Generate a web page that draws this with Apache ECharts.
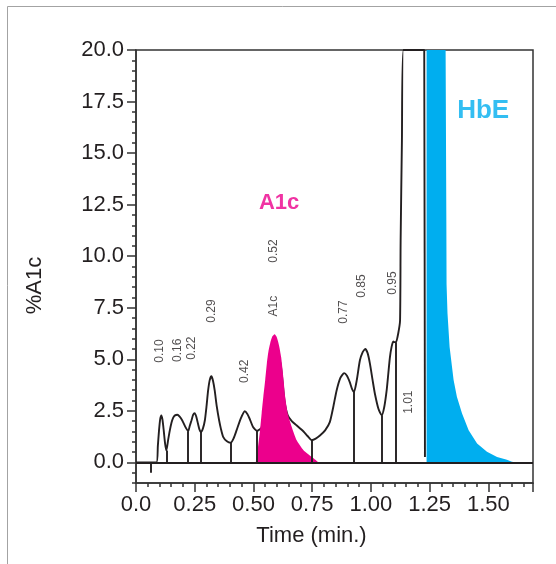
<!DOCTYPE html>
<html>
<head>
<meta charset="utf-8">
<script src="https://cdn.jsdelivr.net/npm/echarts@6/dist/echarts.min.js"></script>
<style>html,body{margin:0;padding:0;background:#fff;}#c{width:556px;height:564px;}</style>
</head>
<body>
<div id="c"></div>
<script>
// ---- data ----
const traceTime = [0,0.087,0.093,0.098,0.103,0.108,0.113,0.118,0.124,0.1295,0.137,0.144,0.151,0.158,0.166,0.176,0.186,0.197,0.21,0.222,0.229,0.236,0.243,0.25,0.257,0.264,0.27,0.276,0.285,0.293,0.3,0.307,0.314,0.321,0.328,0.335,0.344,0.354,0.362,0.371,0.387,0.403,0.415,0.428,0.445,0.463,0.474,0.484,0.499,0.515,0.535,0.56,0.59,0.615,0.632,0.646,0.663,0.683,0.713,0.73,0.748,0.765,0.783,0.805,0.825,0.84,0.854,0.87,0.886,0.898,0.91,0.92,0.928,0.94,0.953,0.965,0.976,0.986,0.996,1.007,1.017,1.032,1.046,1.057,1.067,1.074,1.081,1.088,1.095,1.102,1.107,1.116,1.124,1.1265,1.132,1.138,1.227,1.23,1.23];
const traceValue = [0,0,0.8,1.55,2.1,2.28,2.05,1.55,0.9,0.58,1.1,1.55,1.92,2.16,2.28,2.31,2.22,2.03,1.72,1.51,1.78,2.03,2.3,2.39,2.2,1.87,1.6,1.47,1.65,2.03,2.7,3.49,4.0,4.18,3.95,3.49,2.7,2.03,1.6,1.24,1.02,0.95,1.15,1.55,2.1,2.48,2.35,2.11,1.7,1.53,1.7,4.0,5.6,4.8,3.0,2.28,2.0,1.8,1.5,1.28,1.08,1.15,1.3,1.55,1.95,2.7,3.49,4.1,4.33,4.2,3.89,3.55,3.41,4.0,4.94,5.35,5.5,5.3,4.78,4.0,3.33,2.6,2.28,2.7,3.49,4.3,5.1,5.6,5.86,5.83,5.83,6.24,6.87,10.75,15.6,20,20,20,0.26];
const a1cTime = [0.51,0.519,0.528,0.535,0.542,0.55,0.557,0.564,0.571,0.58,0.59,0.598,0.605,0.611,0.618,0.623,0.629,0.635,0.646,0.663,0.684,0.713,0.749,0.777];
const a1cValue = [0,0.7,1.56,2.4,3.18,4.0,4.8,5.4,5.77,6.1,6.22,6.1,5.85,5.55,5.1,4.6,3.9,3.18,2.37,1.72,1.07,0.59,0.26,0];
const hbeTime = [1.237,1.237,1.318,1.321,1.322,1.326,1.335,1.352,1.366,1.388,1.416,1.452,1.494,1.537,1.579,1.6,1.62];
const hbeValue = [0,20,20,12,8.65,7.23,5.6,3.99,3.18,2.37,1.56,0.91,0.51,0.26,0.13,0.03,0];
const dropTime = [0.1295,0.222,0.276,0.403,0.515,0.748,0.928,1.046,1.107];
const dropValue = [0.58,1.51,1.47,0.95,1.53,1.08,3.41,2.28,5.83];
const injectTime = 0.063;
const peakLabels = ['0.10','0.16','0.22','0.29','0.42','A1c','0.52','0.77','0.85','0.95','1.01'];
const peakLabelTime = [0.099,0.178,0.237,0.322,0.464,0.585,0.584,0.883,0.962,1.092,1.16];
const peakLabelValue = [5.4,5.44,5.54,7.34,4.42,7.58,10.25,7.29,8.55,8.7,2.92];
const a1cTitle = {text: 'A1c', time: 0.609, value: 12.6};
const hbeTitle = {text: 'HbE', time: 1.478, value: 17.07};
const xMajorTicks = [0,0.25,0.5,0.75,1.0,1.25,1.5];
const yMajorTicks = [0,2.5,5,7.5,10,12.5,15,17.5,20];
const xMin = 0, xMax = 1.69, yMin = -1, yMax = 20;

// ---- build ----
const zip = (a, b) => a.map((v, i) => [v, b[i]]);
const xMinor = []; for (let i = 0; i * 0.05 <= xMax + 1e-9; i++) xMinor.push(+(i * 0.05).toFixed(2));
const yMinor = []; for (let i = 0; yMin + i * 0.5 <= yMax + 1e-9; i++) yMinor.push(+(yMin + i * 0.5).toFixed(2));
const FONT = "'Liberation Sans', Arial, sans-serif";
const INK = '#231f20';
const PINK = '#EC008C', BLUE = '#00AEEF';

const dropLines = dropTime.map((t, i) => [{coord: [t, 0]}, {coord: [t, dropValue[i]]}]);
dropLines.push([{coord: [xMin, 0]}, {coord: [xMax, 0]}]);
dropLines.push([{coord: [injectTime, 0]}, {coord: [injectTime, -0.5]}]);

const titleSeries = (t, color, size) => ({
  type: 'scatter', data: [[t.time, t.value]], symbolSize: 0, z: 6,
  label: {show: true, position: 'inside', formatter: t.text, fontWeight: 'bold', fontFamily: FONT, color: color, fontSize: size}
});

const chart = echarts.init(document.getElementById('c'), null, {renderer: 'canvas'});
chart.setOption({
  animation: false,
  backgroundColor: '#fff',
  graphic: [{type: 'rect', shape: {x: 7.5, y: 6.5, width: 700, height: 700}, style: {fill: 'none', stroke: '#a3a3a3', lineWidth: 1}, silent: true, z: -10}],
  grid: {left: 136, right: 23, top: 50, bottom: 81, show: true, borderColor: '#333', borderWidth: 1.5, backgroundColor: 'transparent'},
  xAxis: [
    {type: 'value', min: xMin, max: xMax, position: 'bottom',
     axisLine: {show: true, onZero: false, lineStyle: {color: '#333', width: 1.5}},
     axisTick: {show: true, customValues: xMajorTicks.concat([xMax]), length: 9, lineStyle: {color: '#333', width: 1.5}},
     axisLabel: {customValues: xMajorTicks, formatter: v => v === 0 ? '0.0' : v.toFixed(2), fontSize: 22, color: INK, fontFamily: FONT, margin: 11},
     splitLine: {show: false},
     name: 'Time (min.)', nameLocation: 'middle', nameGap: 42,
     nameTextStyle: {fontSize: 22, color: INK, fontFamily: FONT, padding: [0, 46, 0, 0]}},
    {type: 'value', min: xMin, max: xMax, position: 'bottom',
     axisLine: {show: false, onZero: false},
     axisTick: {show: true, customValues: xMinor, length: 4, lineStyle: {color: '#333', width: 1.5}},
     axisLabel: {show: false}, splitLine: {show: false}}
  ],
  yAxis: [
    {type: 'value', min: yMin, max: yMax, position: 'left',
     axisLine: {show: true, onZero: false, lineStyle: {color: '#333', width: 1.5}},
     axisTick: {show: true, customValues: yMajorTicks, length: 9, lineStyle: {color: '#333', width: 1.5}},
     axisLabel: {customValues: yMajorTicks, formatter: v => v.toFixed(1), fontSize: 22, color: INK, fontFamily: FONT, margin: 12},
     splitLine: {show: false},
     name: '%A1c', nameLocation: 'middle', nameRotate: 90, nameGap: 90,
     nameTextStyle: {fontSize: 22, color: INK, fontFamily: FONT, padding: [0, 38, 0, 0]}},
    {type: 'value', min: yMin, max: yMax, position: 'left',
     axisLine: {show: false, onZero: false},
     axisTick: {show: true, customValues: yMinor, length: 4, lineStyle: {color: '#333', width: 1.5}},
     axisLabel: {show: false}, splitLine: {show: false}}
  ],
  series: [
    {type: 'line', name: 'trace', data: zip(traceTime, traceValue), symbol: 'none', smooth: 0.2,
     lineStyle: {color: INK, width: 1.9}, z: 2,
     markLine: {silent: true, symbol: 'none', label: {show: false}, lineStyle: {color: INK, width: 1.9, type: 'solid'}, data: dropLines}},
    {type: 'line', name: 'A1c', data: zip(a1cTime, a1cValue), symbol: 'none', smooth: 0.2,
     lineStyle: {width: 0, color: PINK}, areaStyle: {color: PINK, opacity: 1}, z: 4},
    {type: 'line', name: 'HbE', data: zip(hbeTime, hbeValue), symbol: 'none', smooth: false,
     lineStyle: {width: 0, color: BLUE}, areaStyle: {color: BLUE, opacity: 1}, z: 4},
    {type: 'scatter', data: peakLabels.map((s, i) => [peakLabelTime[i], peakLabelValue[i], s]), symbolSize: 0, z: 6,
     label: {show: true, position: 'inside', rotate: 90, formatter: p => p.value[2], fontSize: 12, color: INK, fontFamily: FONT}},
    titleSeries(a1cTitle, PINK, 22),
    titleSeries(hbeTitle, BLUE, 26)
  ]
});
</script>
</body>
</html>
